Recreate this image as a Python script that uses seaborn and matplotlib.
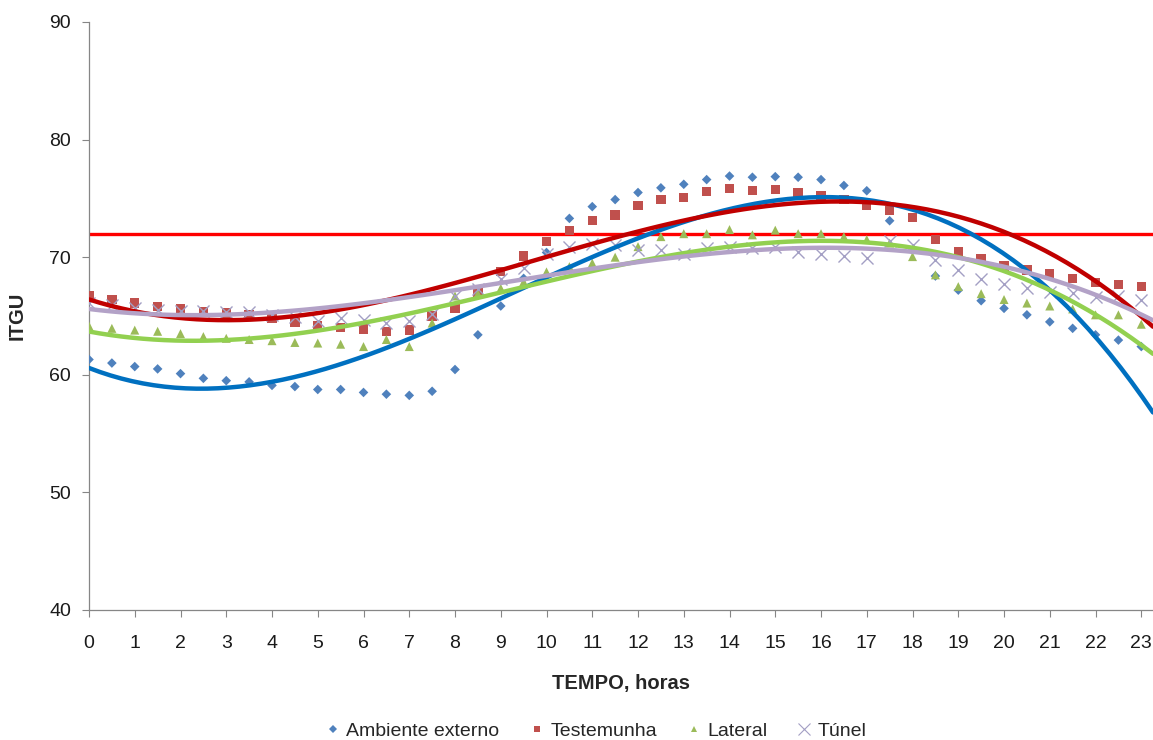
import numpy as np
import pandas as pd
import matplotlib
matplotlib.use("Agg")
import matplotlib.pyplot as plt
import seaborn as sns
from matplotlib.lines import Line2D

# half-hourly readings 0:00 .. 23:30 (the 23:30 reading sits just past the cropped right edge)
hours = [i * 0.5 for i in range(48)]

ambiente = [61.3, 61.0, 60.7, 60.5, 60.1, 59.7, 59.5, 59.4, 59.1, 59.0,
            58.75, 58.75, 58.5, 58.35, 58.25, 58.6, 60.45, 63.4, 65.85, 68.2,
            70.4, 73.3, 74.3, 74.9, 75.5, 75.9, 76.2, 76.6, 76.9, 76.8,
            76.85, 76.8, 76.6, 76.1, 75.65, 73.1, 70.6, 68.4, 67.2, 66.3,
            65.65, 65.1, 64.5, 63.95, 63.4, 62.95, 62.4, 62.0]
testemunha = [66.7, 66.4, 66.1, 65.8, 65.6, 65.4, 65.25, 65.1, 64.8, 64.45,
              64.2, 64.05, 63.9, 63.7, 63.8, 65.0, 65.65, 67.0, 68.8, 70.1,
              71.35, 72.25, 73.1, 73.6, 74.4, 74.9, 75.1, 75.6, 75.85, 75.7,
              75.75, 75.5, 75.2, 74.9, 74.45, 74.0, 73.35, 71.5, 70.5, 69.85,
              69.25, 68.9, 68.6, 68.2, 67.85, 67.7, 67.5, 67.3]
lateral = [64.15, 63.95, 63.8, 63.7, 63.5, 63.25, 63.1, 63.0, 62.9, 62.75,
           62.7, 62.6, 62.4, 63.0, 62.4, 64.4, 66.7, 66.9, 67.35, 67.9,
           68.75, 69.2, 69.5, 70.0, 70.9, 71.75, 72.0, 72.0, 72.35, 71.9,
           72.3, 72.0, 72.0, 71.75, 71.5, 71.2, 70.05, 68.5, 67.5, 66.9,
           66.4, 66.1, 65.85, 65.6, 65.1, 65.1, 64.3, 64.1]
tunel = [66.1, 65.9, 65.7, 65.5, 65.4, 65.4, 65.3, 65.3, 65.1, 64.9,
         64.6, 64.8, 64.7, 64.4, 64.55, 65.2, 66.7, 67.3, 68.15, 69.1,
         70.3, 70.9, 71.1, 71.0, 70.6, 70.65, 70.3, 70.75, 70.9, 70.75,
         70.9, 70.45, 70.25, 70.1, 69.95, 71.4, 71.0, 69.75, 68.9, 68.15,
         67.7, 67.4, 67.05, 66.95, 66.65, 66.7, 66.35, 66.2]

series_names = ["Ambiente externo", "Testemunha", "Lateral", "Túnel"]
limit_value = 72
x_ticks = list(range(24))
y_ticks = [40, 50, 60, 70, 80, 90]

sns.set_theme(style="white")
plt.rcParams['font.family'] = ['Liberation Sans', 'DejaVu Sans']

fig = plt.figure(figsize=(11.53, 7.40), dpi=100)
ax = fig.add_axes([89 / 1153, 130 / 740, 1 - 89 / 1153, 588 / 740])

x_max = (1153 - 88.8) / 45.76
ax.set_xlim(0, x_max)
ax.set_ylim(40, 90)

marker_cols = ["#4F81BD", "#C0504D", "#9BBB59", "#A39FC4"]
line_cols = ["#0070C0", "#C00000", "#92D050", "#B3A2C7"]
markers = ["D", "s", "^", "x"]
sizes = [24, 45, 42, 75]
data_list = [ambiente, testemunha, lateral, tunel]

ax.axhline(limit_value, color="#FF0000", lw=2.4, zorder=1)

for name, vals, mc, lc, mk, sz in zip(series_names, data_list, marker_cols, line_cols, markers, sizes):
    df = pd.DataFrame({"h": hours, "v": vals})
    kw = dict(color=mc, marker=mk, s=sz, label=name, zorder=3, clip_on=True)
    if mk == "x":
        kw["linewidth"] = 1.0
    else:
        kw["edgecolor"] = "none"
    sns.scatterplot(data=df, x="h", y="v", ax=ax, legend=False, **kw)
    sns.regplot(data=df, x="h", y="v", ax=ax, order=3, ci=None, scatter=False,
                truncate=False, line_kws=dict(color=lc, lw=3.2, zorder=4))

ax.set_xlim(0, x_max)
ax.set_ylim(40, 90)
ax.set_xticks(x_ticks)
ax.set_yticks(y_ticks)
ax.tick_params(axis="both", which="major", labelsize=14, direction="out",
               length=5, width=0.8, color="#868686", left=True, bottom=True,
               labelcolor="#1a1a1a")
ax.tick_params(axis="x", pad=13)
ax.tick_params(axis="y", pad=8)
for s in ["top", "right"]:
    ax.spines[s].set_visible(False)
for s in ["left", "bottom"]:
    ax.spines[s].set_color("#868686")
    ax.spines[s].set_linewidth(0.9)

ax.set_xlabel("TEMPO, horas", fontsize=14.5, fontweight="bold", labelpad=16)
ax.set_ylabel("ITGU", fontsize=14.5, fontweight="bold", labelpad=16)
ax.grid(False)

handles = []
for name, mc, mk in zip(series_names, marker_cols, markers):
    if mk == "x":
        h = Line2D([], [], ls="none", marker=mk, color=mc, markersize=8, markeredgewidth=0.8)
    else:
        h = Line2D([], [], ls="none", marker=mk, color=mc, markersize=4.5, markeredgewidth=0)
    handles.append(h)
fig.legend(handles, series_names, loc="center", bbox_to_anchor=(596 / 1153, 9 / 740),
           ncol=4, frameon=False, fontsize=14, handlelength=0.8, handletextpad=0.3,
           columnspacing=1.5)

fig.savefig("out.png", dpi=100)
